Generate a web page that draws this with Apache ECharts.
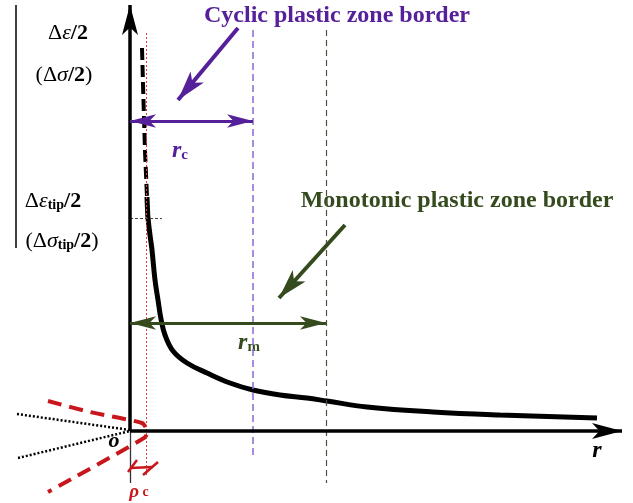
<!DOCTYPE html>
<html><head><meta charset="utf-8">
<script src="https://cdn.jsdelivr.net/npm/echarts@6/dist/echarts.min.js"></script>
<style>html,body{margin:0;padding:0;background:#fff}#c{width:633px;height:503px}</style>
</head><body><div id="c"></div>
<script>
// Schematic values (r along x, strain/stress amplitude along y), origin at crack tip
const xRange = [-130, 503];
const yRange = [-72, 431];
const curveDashed = [[12,383],[13.5,330],[15,280],[17,234]];
const curveSolid = [[17,234],[17.5,222],[18,213],[20,196],[22,181],[25,151],[28,131],[31,112],[35,96],[43,80],[57,68],[77,58],[100,48],[123,41],[150,36],[177,33],[197,30],[237,24],[303,19],[370,16],[467,13]];
const crackProfile = [[-82,30],[-40,19],[12,8],[16,3],[17,-2],[14,-7],[-82,-61]];
const dottedUpper = [[-113,17],[0,1]];
const dottedLower = [[-112,-27],[0,0]];
const rTipBlunt = 16;     // rho_c
const rCyclic = 123;      // r_c
const rMono = 196;        // r_m
const yTip = 213;         // strain at tip
const yAxisTop = 426;
const xAxisEnd = 492;
const yRcArrow = 310;
const yRmArrow = 108;

const chart = echarts.init(document.getElementById('c'));
const seg = (a, b, style, sym, symSize) => ({
  symbol: sym || ['none','none'], symbolSize: symSize || 10,
  lineStyle: style,
  coords: [a, b]
});
function ml(list){
  return {
    type:'line', data:[], silent:true,
    markLine:{
      silent:true, animation:false, label:{show:false}, emphasis:{disabled:true},
      data: list.map(s => [
        {coord:s.coords[0], symbol:s.symbol[0], symbolSize:s.symbolSize, lineStyle:s.lineStyle},
        {coord:s.coords[1], symbol:s.symbol[1], symbolSize:s.symbolSize}
      ])
    }
  };
}
const purple = '#55209a', green = '#354b1e', red = '#c8171c';
const F = 'Liberation Serif';
const lab = {
  n:{fontSize:22,fontFamily:F},
  b:{fontSize:22,fontFamily:F,fontWeight:'bold'},
  i:{fontSize:22,fontFamily:F,fontStyle:'italic'},
  s:{fontWeight:'bold',fontSize:14,fontFamily:F,padding:[9,0,0,0]}
};
const option = {
  animation:false,
  grid:{left:0,right:0,top:0,bottom:0},
  xAxis:{type:'value',min:xRange[0],max:xRange[1],show:false},
  yAxis:{type:'value',min:yRange[0],max:yRange[1],show:false},
  series:[
    {type:'line',data:curveDashed,showSymbol:false,symbol:'none',lineStyle:{color:'#000',width:4,type:[12,5]},silent:true},
    {type:'line',data:curveSolid,showSymbol:false,symbol:'none',smooth:0.4,lineStyle:{color:'#000',width:5},silent:true},
    {type:'line',data:crackProfile,showSymbol:false,symbol:'none',smooth:0.3,lineStyle:{color:red,width:4,type:[14,8]},silent:true},
    {type:'line',data:dottedUpper,showSymbol:false,symbol:'none',lineStyle:{color:'#000',width:2.5,type:[2,2]},silent:true},
    {type:'line',data:dottedLower,showSymbol:false,symbol:'none',lineStyle:{color:'#000',width:2.5,type:[2,2]},silent:true},
    ml([
      seg([-114,yAxisTop],[-114,183],{color:'#000',width:1.5,type:'solid'}),
      seg([rTipBlunt,398],[rTipBlunt,-45],{color:'#e03a3a',width:1,type:[2,2]}),
      seg([rCyclic,401],[rCyclic,-24],{color:'#9370d8',width:1.6,type:[7,4]}),
      seg([rMono,401],[rMono,-52],{color:'#50503c',width:1.2,type:[6,4]}),
      seg([0,yTip],[32,yTip],{color:'#444',width:1.2,type:[3,2]}),
      seg([0,0],[0,-52],{color:'#333',width:1.3,type:'solid'}),
      seg([0,0],[0,yAxisTop],{color:'#000',width:3.5,type:'solid'},['none','arrow'],[12,30]),
      seg([0,0],[xAxisEnd,0],{color:'#000',width:3.5,type:'solid'},['none','arrow'],[12,30]),
      seg([0,yRcArrow],[rCyclic,yRcArrow],{color:purple,width:3,type:'solid'},['arrow','arrow'],[10,26]),
      seg([0,yRmArrow],[rMono,yRmArrow],{color:green,width:3,type:'solid'},['arrow','arrow'],[10,26]),
      seg([108,403],[48,331],{color:purple,width:4,type:'solid'},['none','arrow'],[13,30]),
      seg([215,206],[149,133],{color:green,width:4,type:'solid'},['none','arrow'],[13,30]),
      seg([0,-37],[23,-36],{color:red,width:2.5,type:'solid'}),
      seg([-2,-41],[7,-29],{color:red,width:2.5,type:'solid'}),
      seg([13,-44],[28,-31],{color:red,width:2.5,type:'solid'})
    ])
  ],
  graphic:[
    {type:'text',x:337,y:16,style:{text:'Cyclic plastic zone border',font:'bold 24px "Liberation Serif"',fill:purple,align:'center',verticalAlign:'middle'}},
    {type:'text',x:457,y:201,style:{text:'Monotonic plastic zone border',font:'bold 24px "Liberation Serif"',fill:green,align:'center',verticalAlign:'middle'}},
    {type:'text',x:68,y:33,style:{text:'{n|Δ}{i|ε}{b|/2}',fill:'#000',align:'center',verticalAlign:'middle',rich:lab}},
    {type:'text',x:64,y:75,style:{text:'{n|(Δ}{i|σ}{b|/2}{n|)}',fill:'#000',align:'center',verticalAlign:'middle',rich:lab}},
    {type:'text',x:53,y:201,style:{text:'{n|Δ}{i|ε}{s|tip}{b|/2}',fill:'#000',align:'center',verticalAlign:'middle',rich:lab}},
    {type:'text',x:62,y:241,style:{text:'{n|(Δ}{i|σ}{s|tip}{b|/2}{n|)}',fill:'#000',align:'center',verticalAlign:'middle',rich:lab}},
    {type:'text',x:180,y:151,style:{text:'{r|r}{s|c}',fill:purple,align:'center',verticalAlign:'middle',rich:{r:{fontStyle:'italic',fontWeight:'bold',fontSize:24,fontFamily:F,fill:purple},s:{fontWeight:'bold',fontSize:15,fontFamily:F,fill:purple,padding:[8,0,0,0]}}}},
    {type:'text',x:249,y:343,style:{text:'{r|r}{s|m}',fill:green,align:'center',verticalAlign:'middle',rich:{r:{fontStyle:'italic',fontWeight:'bold',fontSize:24,fontFamily:F,fill:green},s:{fontWeight:'bold',fontSize:15,fontFamily:F,fill:green,padding:[8,0,0,0]}}}},
    {type:'text',x:114,y:441,style:{text:'o',font:'italic bold 22px "Liberation Serif"',fill:'#000',align:'center',verticalAlign:'middle'}},
    {type:'text',x:597,y:451,style:{text:'r',font:'italic bold 24px "Liberation Serif"',fill:'#000',align:'center',verticalAlign:'middle'}},
    {type:'text',x:139,y:492,style:{text:'{r|ρ} {s|c}',fill:red,align:'center',verticalAlign:'middle',rich:{r:{fontStyle:'italic',fontWeight:'bold',fontSize:19,fontFamily:F,fill:red},s:{fontWeight:'bold',fontSize:14,fontFamily:F,fill:red}}}}
  ]
};
chart.setOption(option);
</script></body></html>
